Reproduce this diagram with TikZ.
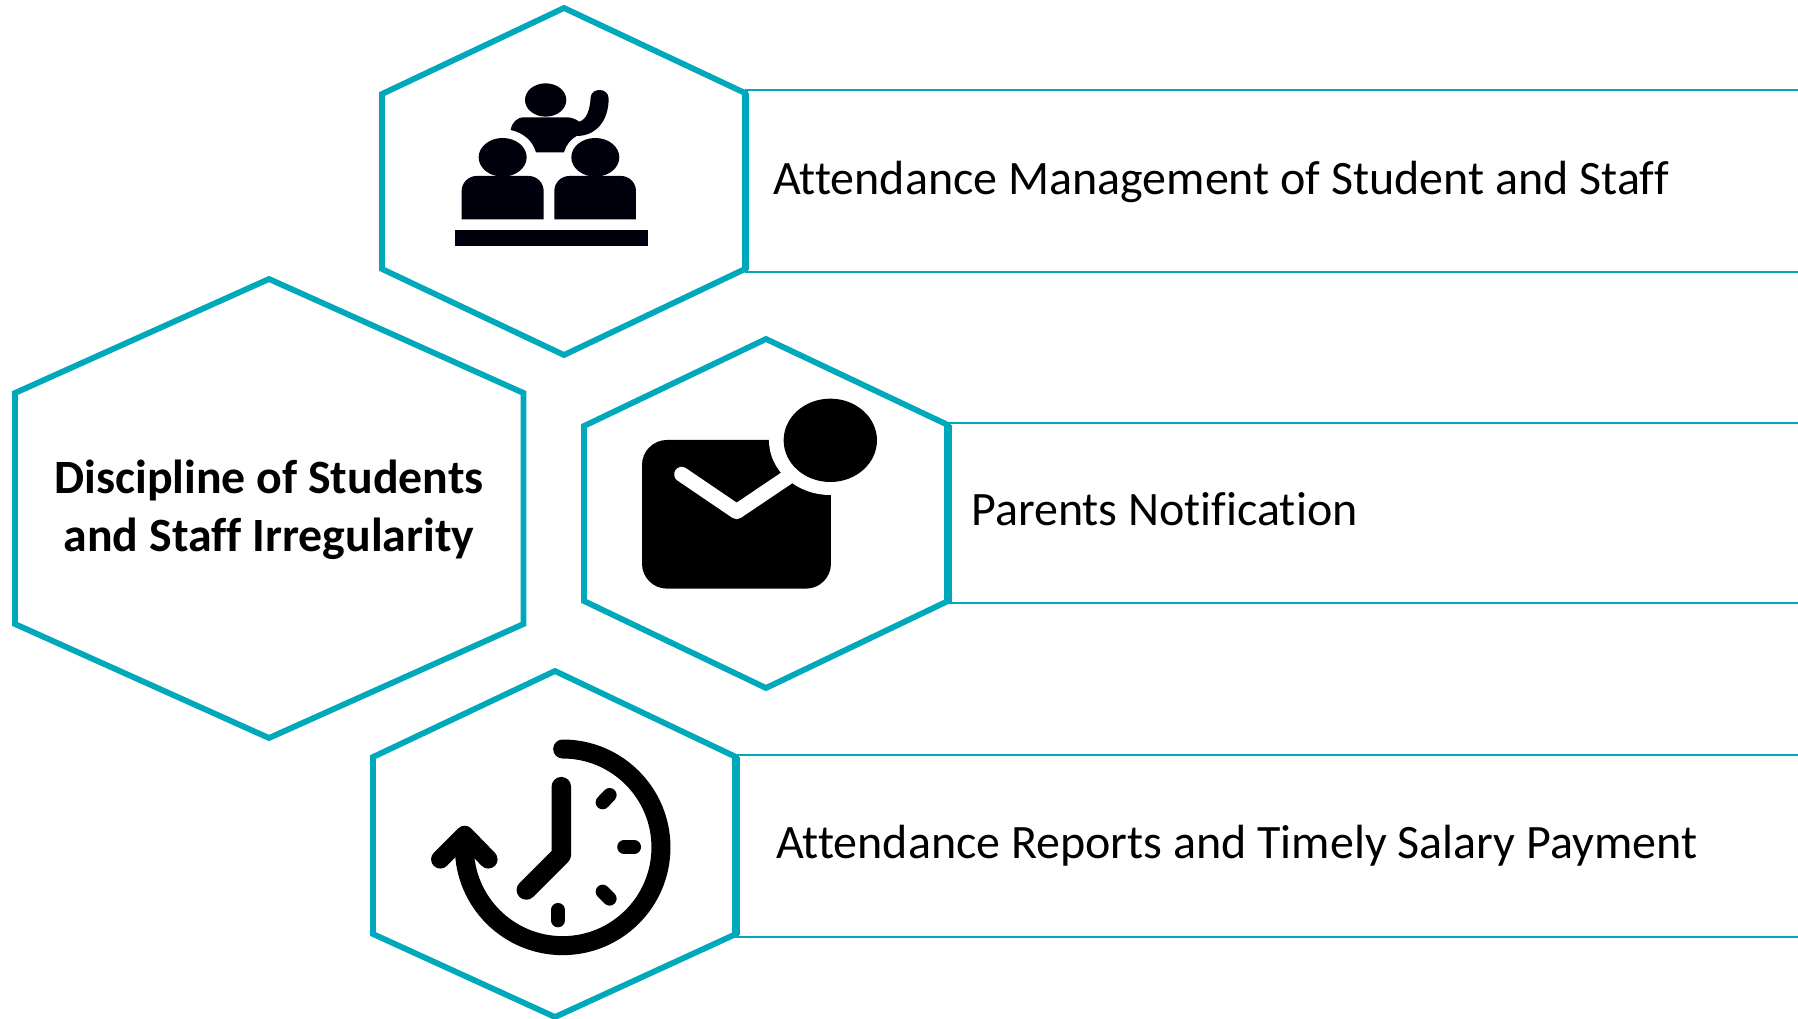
\documentclass[tikz,border=0pt]{standalone}
\usepackage{fontspec}
\setmainfont{Carlito}[Ligatures=CommonOff]
\definecolor{teal}{RGB}{0,168,188}
\definecolor{inkb}{RGB}{0,0,12}
\tikzset{
  hexline/.style={draw=teal,line width=5.8pt,fill=white,line join=miter},
  edgeline/.style={draw=teal,line width=7.5pt},
  railline/.style={draw=teal,line width=2pt},
  label/.style={inner sep=0pt,anchor=base west,font=\fontsize{48}{48}\selectfont,text=black},
  headline/.style={inner sep=0pt,anchor=base,font=\bfseries\fontsize{47.8}{47.8}\selectfont,text=black},
  zoomA/.style={shift={(370,0)},x=0.3333pt,y=-0.3333pt},
  zoomB/.style={shift={(570,330)},x=0.3333pt,y=-0.3333pt},
  zoomC/.style={shift={(360,660)},x=0.3333pt,y=-0.3333pt}
}
\begin{document}
\begin{tikzpicture}[x=1pt,y=-1pt]
\useasboundingbox (0,0) rectangle (1798,1019);
% rails
\coordinate (r1a) at (745,90);  \coordinate (r1b) at (1798,90);
\coordinate (r1c) at (745,272); \coordinate (r1d) at (1798,272);
\coordinate (r2a) at (948,423); \coordinate (r2b) at (1798,423);
\coordinate (r2c) at (948,603); \coordinate (r2d) at (1798,603);
\coordinate (r3a) at (735,755); \coordinate (r3b) at (1798,755);
\coordinate (r3c) at (735,937); \coordinate (r3d) at (1798,937);
\draw[railline] (r1a) -- (r1b) (r1c) -- (r1d) (r2a) -- (r2b) (r2c) -- (r2d) (r3a) -- (r3b) (r3c) -- (r3d);
% hexagons
\draw[hexline] (564,8) -- (745,93) -- (745,269) -- (564,355) -- (382,269) -- (382,94) -- cycle;
\draw[edgeline] (745.5,93) -- (745.5,270);
\draw[hexline] (766,339) -- (948,425) -- (948,601) -- (766,688) -- (584,601) -- (584,426) -- cycle;
\draw[edgeline] (948,425) -- (948,602);
\draw[hexline] (555,671) -- (736,757) -- (736,934) -- (555,1017) -- (373,934) -- (373,757) -- cycle;
\draw[edgeline] (736,757) -- (736,935);
\draw[hexline] (269,279) -- (523.5,393) -- (523.5,624) -- (269,738) -- (15,624) -- (15,393) -- cycle;
% texts
\node[headline] (h1) at (269,493) {Discipline of Students};
\node[headline] (h2) at (269,551) {and Staff Irregularity};
\node[label] (t1) at (773,195) {Attendance Management of Student and Staff};
\node[label] (t2) at (971,525) {Parents Notification};
\node[label] (t3) at (776,858) {Attendance Reports and Timely Salary Payment};
% classroom icon
\begin{scope}[zoomA]
\fill[inkb] (527,300) ellipse [x radius=62,y radius=50];
\fill[inkb] (422,390) .. controls (426,368) and (440,352) .. (462,352) -- (590,352)
  .. controls (605,352) and (618,358) .. (628,365)
  .. controls (650,358) and (660,330) .. (662,292)
  .. controls (664,262) and (716,262) .. (716,296)
  .. controls (716,360) and (680,408) .. (620,408)
  .. controls (602,418) and (588,435) .. (582,457) -- (498,457)
  .. controls (488,422) and (460,398) .. (422,390) -- cycle;
\fill[inkb] (398,472) ellipse [x radius=72,y radius=58];
\fill[inkb] (676,472) ellipse [x radius=72,y radius=58];
\fill[inkb] (275,658) -- (275,573) arc [start angle=180,end angle=270,radius=45] -- (476,528) arc [start angle=270,end angle=360,radius=45] -- (521,658) -- cycle;
\fill[inkb] (553,658) -- (553,573) arc [start angle=180,end angle=270,radius=45] -- (753,528) arc [start angle=270,end angle=360,radius=45] -- (798,658) -- cycle;
\fill[inkb] (255,689) rectangle (835,739);
\end{scope}
% envelope icon
\begin{scope}[zoomB]
\fill[black,rounded corners=25pt] (216,330) rectangle (783,776);
\fill[white] (781,331) ellipse [x radius=184,y radius=164];
\draw[white,line width=15pt,line cap=round,line join=round] (335,433) -- (500,545) -- (690,417);
\fill[black] (781,331) ellipse [x radius=140,y radius=125];
\end{scope}
% clock icon
\begin{scope}[zoomC]
\draw[black,line width=19pt,line cap=round] (608,267) arc [start angle=-90,end angle=180,radius=295];
\draw[black,line width=18.5pt,line cap=round,line join=round] (241,598) -- (314,525) -- (385,598);
\draw[black,line width=19.5pt,line cap=round,line join=round] (604,380) -- (604,585) -- (499,690);
\draw[black,line width=14pt,line cap=round] (728,427) -- (749,405);
\draw[black,line width=13.5pt,line cap=round] (792,561) -- (823,561);
\draw[black,line width=14pt,line cap=round] (728,695) -- (749,716);
\draw[black,line width=14pt,line cap=round] (594,750) -- (594,781);
\end{scope}
\end{tikzpicture}
\end{document}
